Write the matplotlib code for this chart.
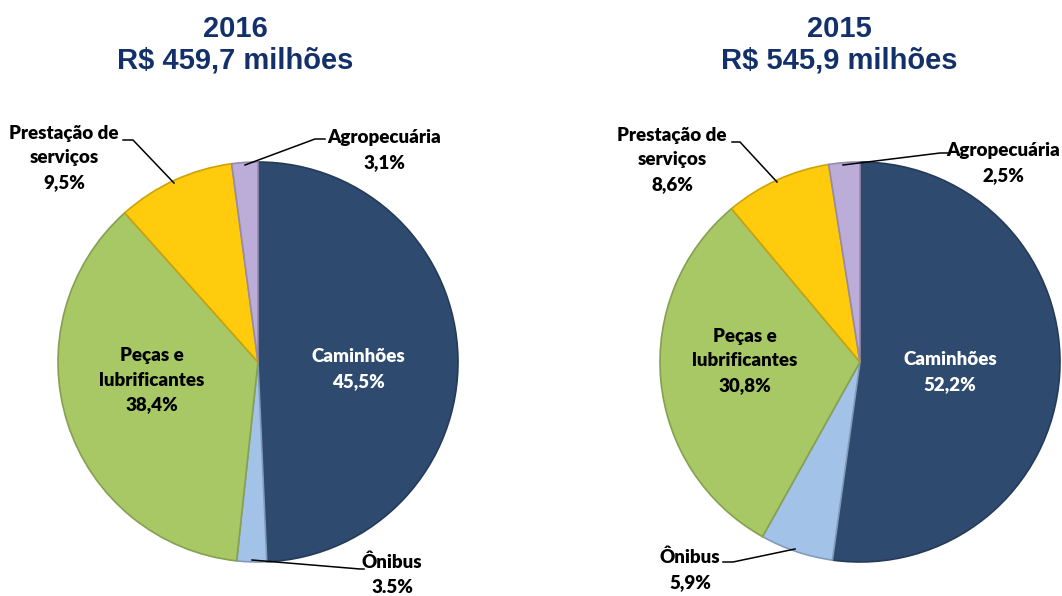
import numpy as np
import matplotlib.pyplot as plt
import matplotlib.colors as mcolors

# data (slice sizes as drawn in the picture; labels as printed)
categories = ["Caminhões", "Ônibus", "Peças e\nlubrificantes", "Prestação de\nserviços", "Agropecuária"]
values_2016 = [49.3, 2.4, 36.7, 9.5, 2.1]
values_2015 = [52.2, 5.9, 30.8, 8.6, 2.5]
pct_2016 = ["45,5%", "3.5%", "38,4%", "9,5%", "3,1%"]
pct_2015 = ["52,2%", "5,9%", "30,8%", "8,6%", "2,5%"]
titles = ["2016\nR$ 459,7 milhões", "2015\nR$ 545,9 milhões"]

colors = ["#2E4A6F", "#A3C2E8", "#A8C865", "#FFCB0C", "#BBACD8"]

W, H = 1062, 596
fig = plt.figure(figsize=(W / 100, H / 100), dpi=100)
ax = fig.add_axes([0, 0, 1, 1])

lab_font = dict(family=["Lato", "DejaVu Sans"], fontweight="heavy", fontsize=13.5)


def Y(y):
    return H - y


def edge(c):
    r, g, b = mcolors.to_rgb(c)
    return (r * 0.8, g * 0.8, b * 0.8)


def draw(cx, cy, vals, pcts, title, tx, pos, lines):
    wedges, _ = ax.pie(vals, colors=colors, startangle=90, counterclock=False,
                       center=(cx, Y(cy)), radius=200, frame=True,
                       wedgeprops=dict(linewidth=1.2))
    for w, c in zip(wedges, colors):
        w.set_edgecolor(edge(c))
    ax.text(tx, Y(45), title, ha="center", va="center", color="#13306B",
            fontsize=21, fontweight="bold", family="Liberation Sans", linespacing=1.15)
    for i, (cat, p) in enumerate(zip(categories, pcts)):
        col = "white" if i == 0 else "black"
        x, y = pos[i]
        ax.text(x, Y(y), cat + "\n" + p, ha="center", va="center", color=col,
                linespacing=1.55, **lab_font)
    for pts in lines:
        xs = [p[0] for p in pts]
        ys = [Y(p[1]) for p in pts]
        ax.plot(xs, ys, color="black", lw=1.1)


draw(258, 362, values_2016, pct_2016, titles[0], 235,
     [(358, 369), (392, 575), (152, 380), (64, 158), (384, 150)],
     [[(123, 140), (133, 140), (174, 183)],
      [(325, 139), (315, 139), (245, 165)],
      [(252, 560), (360, 569), (364, 569)]])

draw(860, 362, values_2015, pct_2015, titles[1], 839,
     [(950, 372), (690, 570), (745, 361), (672, 160), (1003, 163)],
     [[(732, 142), (740, 142), (777, 182)],
      [(948, 153), (940, 153), (843, 165)],
      [(723, 562), (733, 562), (795, 549)]])

ax.set_xlim(0, W)
ax.set_ylim(0, H)
ax.set_aspect("equal")
ax.axis("off")
fig.savefig("out.png", dpi=100)
